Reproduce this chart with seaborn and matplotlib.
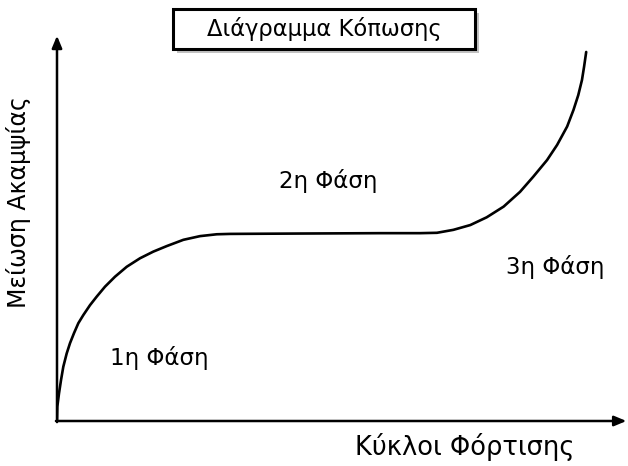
import matplotlib
matplotlib.use("Agg")
import matplotlib.pyplot as plt
from matplotlib.patches import Rectangle
import seaborn as sns
import pandas as pd

# Stiffness-reduction curve over loading cycles (normalised units, 0-100)
cycles = [0.0, 0.06, 0.38, 0.76, 1.19, 1.83, 2.46, 3.21, 4.03, 4.97, 6.24,
          7.50, 9.07, 10.96, 13.18, 15.69, 18.20, 20.74, 23.88, 27.03, 30.19,
          32.70, 45.9, 61.1, 68.6, 71.8, 74.9, 78.1, 81.2, 84.4, 87.5, 90.0,
          92.6, 94.5, 96.4, 97.6, 98.5, 99.2, 99.6, 100.0]
stiffness_loss = [0.0, 3.9, 7.5, 11.1, 14.7, 18.3, 21.1, 23.8, 26.5, 28.7, 31.4,
                  33.7, 36.4, 39.1, 41.8, 44.1, 45.9, 47.4, 49.1, 50.1, 50.6,
                  50.7, 50.8, 50.9, 50.9, 51.0, 51.8, 53.1, 55.2, 58.1, 62.1, 66.2,
                  70.7, 74.8, 79.8, 84.3, 88.3, 92.4, 96.0, 100.0]

phase_labels = ["1η Φάση", "2η Φάση", "3η Φάση"]
phase_x = [19.4, 51.2, 94.1]
phase_y = [17.1, 65.0, 41.7]

title_text = "Διάγραμμα Κόπωσης"
x_label = "Κύκλοι Φόρτισης"
y_label = "Μείωση Ακαμψίας"

sns.set_theme(style="white")
plt.rcParams["font.family"] = ["DejaVu Sans"]

fig = plt.figure(figsize=(6.28, 4.66), dpi=100)
ax = fig.add_axes([57 / 628, 45 / 466, 571 / 628, 386 / 466])

df = pd.DataFrame({"cycles": cycles, "loss": stiffness_loss})
sns.lineplot(data=df, x="cycles", y="loss", ax=ax, color="black",
             linewidth=1.9, sort=False, estimator=None,
             solid_joinstyle="round", solid_capstyle="round")

ax.set_xlim(0, 107.9)
ax.set_ylim(0, 104.6)
for s in ax.spines.values():
    s.set_visible(False)
ax.set_xticks([])
ax.set_yticks([])
ax.set_xlabel("")
ax.set_ylabel("")

# Axes drawn as arrows
arrow_kw = dict(arrowstyle="-|>,head_length=0.6,head_width=0.25",
                color="black", lw=1.8, shrinkA=0, shrinkB=0)
ax.annotate("", xy=(107.6, 0), xytext=(-0.2, 0),
            arrowprops=arrow_kw, annotation_clip=False)
ax.annotate("", xy=(0, 104.4), xytext=(0, -0.3),
            arrowprops=arrow_kw, annotation_clip=False)

for lbl, x, y in zip(phase_labels, phase_x, phase_y):
    ax.text(x, y, lbl, ha="center", va="center", fontsize=16.5, color="black")

fig.text(465 / 628, 1 - 447 / 466, x_label, ha="center", va="center",
         fontsize=18.5, color="black")
fig.text(19 / 628, 1 - 202 / 466, y_label, ha="center", va="center",
         rotation=90, fontsize=17, color="black")

# Title box with a soft drop shadow
bx0, bx1 = 173 / 628, 475 / 628
by0, by1 = 1 - 49 / 466, 1 - 9 / 466
fig.patches.append(Rectangle((bx0 + 4 / 628, by0 - 4 / 466), bx1 - bx0, by1 - by0,
                             transform=fig.transFigure, facecolor="#9a9a9a",
                             edgecolor="none", alpha=0.6, zorder=1))
fig.patches.append(Rectangle((bx0, by0), bx1 - bx0, by1 - by0,
                             transform=fig.transFigure, facecolor="white",
                             edgecolor="black", linewidth=2.2, zorder=2))
fig.text((bx0 + bx1) / 2, (by0 + by1) / 2, title_text, ha="center", va="center",
         fontsize=16.3, color="black", zorder=3)

fig.savefig("out.png", dpi=100, facecolor="white")
